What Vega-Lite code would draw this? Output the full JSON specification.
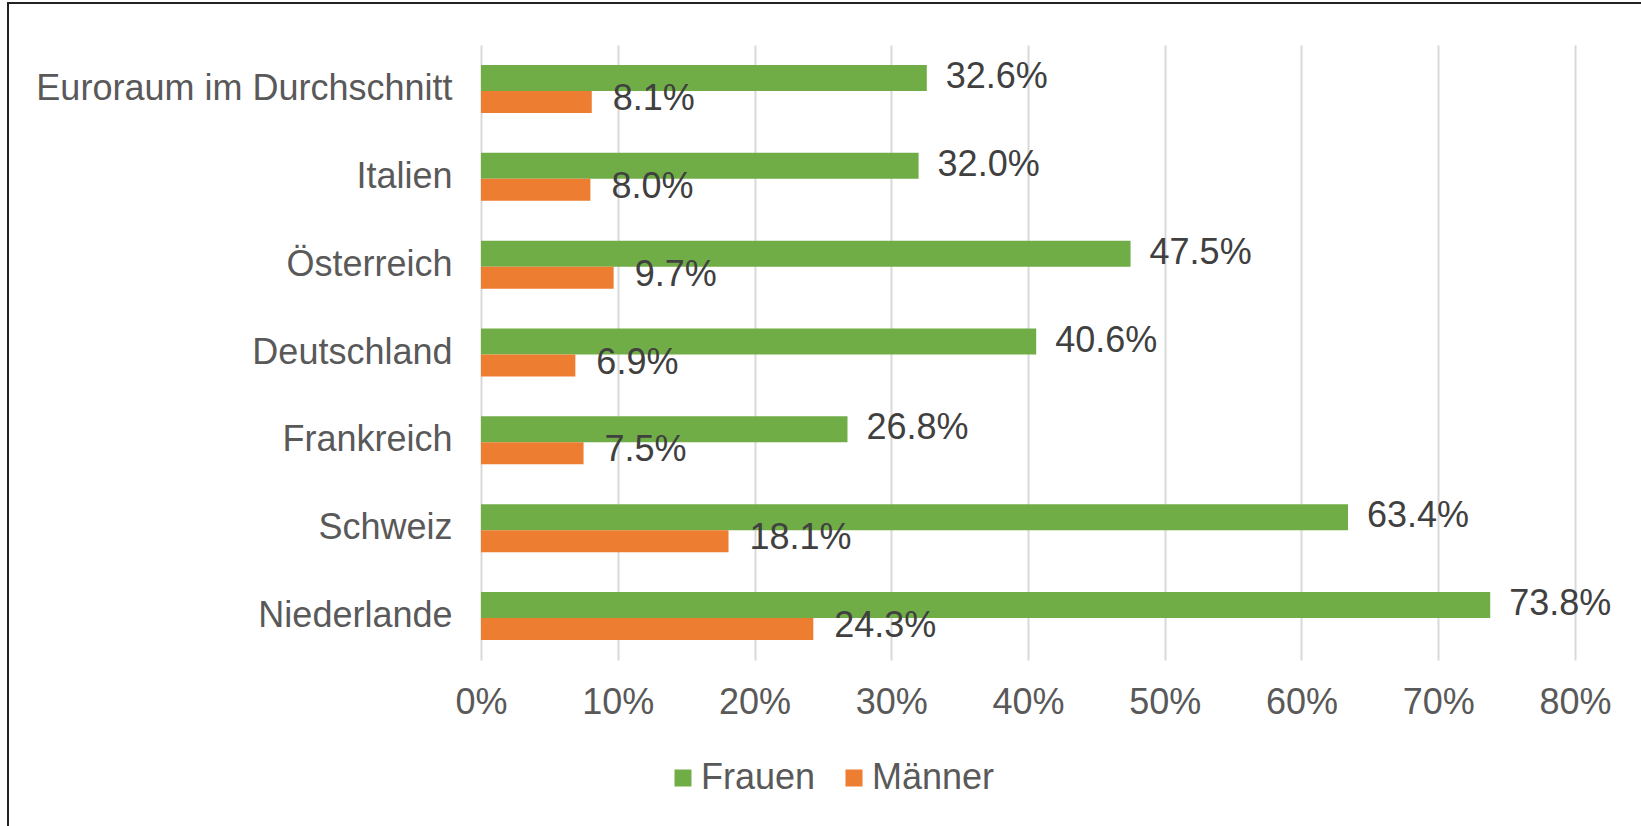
{
  "$schema": "https://vega.github.io/schema/vega-lite/v6.json",
  "width": 1635,
  "height": 825,
  "autosize": {"type": "none"},
  "padding": {"left": 8, "top": 3, "right": 0, "bottom": 0},
  "background": "white",
  "config": {
    "font": "Liberation Sans",
    "view": {"stroke": "#222222", "strokeWidth": 2, "fill": "white"},
    "legend": {
      "symbolType": "square",
      "symbolSize": 289,
      "symbolStrokeWidth": 0,
      "labelFontSize": 36,
      "labelColor": "#595959",
      "labelFont": "Liberation Sans",
      "labelOffset": 0,
      "columnPadding": 20,
      "padding": 0,
      "labelLimit": 400
    }
  },
  "data": {
    "values": [
      {"country": "Euroraum im Durchschnitt", "gender": "Frauen", "value": 0.326},
      {"country": "Euroraum im Durchschnitt", "gender": "Männer", "value": 0.081},
      {"country": "Italien", "gender": "Frauen", "value": 0.320},
      {"country": "Italien", "gender": "Männer", "value": 0.080},
      {"country": "Österreich", "gender": "Frauen", "value": 0.475},
      {"country": "Österreich", "gender": "Männer", "value": 0.097},
      {"country": "Deutschland", "gender": "Frauen", "value": 0.406},
      {"country": "Deutschland", "gender": "Männer", "value": 0.069},
      {"country": "Frankreich", "gender": "Frauen", "value": 0.268},
      {"country": "Frankreich", "gender": "Männer", "value": 0.075},
      {"country": "Schweiz", "gender": "Frauen", "value": 0.634},
      {"country": "Schweiz", "gender": "Männer", "value": 0.181},
      {"country": "Niederlande", "gender": "Frauen", "value": 0.738},
      {"country": "Niederlande", "gender": "Männer", "value": 0.243}
    ]
  },
  "encoding": {
    "y": {
      "field": "country",
      "type": "nominal",
      "sort": ["Euroraum im Durchschnitt", "Italien", "Österreich", "Deutschland", "Frankreich", "Schweiz", "Niederlande"],
      "scale": {"range": [42, 657], "paddingInner": 0, "paddingOuter": 0},
      "axis": {
        "title": null,
        "domain": false,
        "ticks": false,
        "tickSize": 0,
        "grid": false,
        "labelFontSize": 36,
        "labelFont": "Liberation Sans",
        "labelColor": "#595959",
        "labelPadding": -444,
        "labelLimit": 500,
        "labelAlign": "right",
        "labelBaseline": "middle"
      }
    },
    "x": {
      "field": "value",
      "type": "quantitative",
      "scale": {"domain": [0, 0.8], "range": [473, 1567], "nice": false, "zero": true},
      "axis": {
        "orient": "top",
        "title": null,
        "domain": false,
        "ticks": false,
        "tickSize": 0,
        "grid": true,
        "gridColor": "#d9d9d9",
        "gridWidth": 2,
        "values": [0, 0.1, 0.2, 0.3, 0.4, 0.5, 0.6, 0.7, 0.8],
        "format": ".0%",
        "labelFontSize": 36,
        "labelFont": "Liberation Sans",
        "labelColor": "#595959",
        "labelBaseline": "alphabetic",
        "labelPadding": -710,
        "labelFlush": false,
        "labelOverlap": false
      }
    }
  },
  "layer": [
    {
      "transform": [{"filter": "datum.gender === 'Frauen'"}],
      "mark": {"type": "bar", "height": 26, "yOffset": -11},
      "encoding": {
        "color": {
          "field": "gender",
          "type": "nominal",
          "scale": {"domain": ["Frauen", "Männer"], "range": ["#70ad47", "#ed7d31"]},
          "legend": {"title": null, "orient": "none", "direction": "horizontal", "legendX": 657, "legendY": 757}
        }
      }
    },
    {
      "transform": [{"filter": "datum.gender === 'Männer'"}],
      "mark": {"type": "bar", "height": 22, "yOffset": 13},
      "encoding": {
        "color": {"field": "gender", "type": "nominal"}
      }
    },
    {
      "transform": [{"filter": "datum.gender === 'Frauen'"}],
      "mark": {"type": "text", "align": "left", "baseline": "middle", "dx": 19, "dy": -12, "fontSize": 36, "font": "Liberation Sans", "color": "#404040"},
      "encoding": {"text": {"field": "value", "type": "quantitative", "format": ".1%"}}
    },
    {
      "transform": [{"filter": "datum.gender === 'Männer'"}],
      "mark": {"type": "text", "align": "left", "baseline": "middle", "dx": 21, "dy": 10, "fontSize": 36, "font": "Liberation Sans", "color": "#404040"},
      "encoding": {"text": {"field": "value", "type": "quantitative", "format": ".1%"}}
    }
  ]
}
